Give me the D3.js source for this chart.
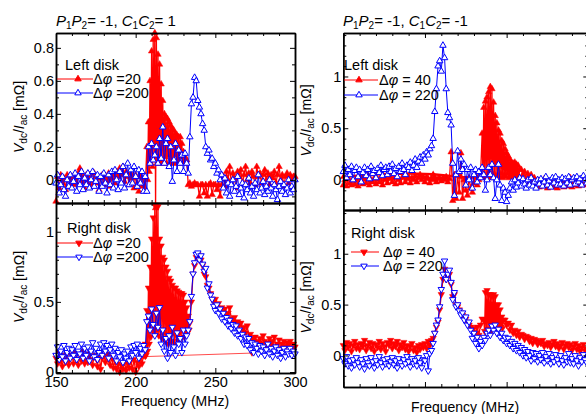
<!DOCTYPE html>
<html>
<head>
<meta charset="utf-8">
<script src="https://cdn.jsdelivr.net/npm/d3@7"></script>
<style>
  body { margin: 0; background: #fff; }
  svg { font-family: "Liberation Sans", Arial, sans-serif; }
  .axis path, .axis line { stroke: #000; }
  .axis path { stroke-width: 1.5; }
  .axis line { stroke-width: 1; }
  .axis text { font-size: 14.5px; fill: #000; font-family: "Liberation Sans", Arial, sans-serif; }
</style>
</head>
<body>
<div id="container"></div>
<script>
let w = 586;
let h = 414;

// frequency grid of the sweep (MHz)
const freqs = d3.range(150, 301);

// P1P2 = -1, C1C2 = 1, left disk
const aLeft20 = [
  -0.13, 0.02, -0.05, 0.03, -0.02, 0.01, -0.06, 0.03, 0.0, -0.04,
  0.02, -0.03, 0.03, -0.02, 0.04, 0.07, -0.01, 0.02, -0.05, 0.03,
  -0.02, 0.03, 0.0, -0.03, 0.04, -0.02, 0.02, -0.06, 0.01, 0.03,
  -0.03, 0.02, -0.01, 0.04, -0.04, 0.01, 0.03, -0.02, 0.05, 0.02,
  0.07, 0.03, 0.08, -0.01, 0.05, 0.02, -0.03, 0.04, 0.01, -0.05,
  0.03, -0.02, -0.07, 0.02, -0.04, 0.01, -0.06, 0.12, 0.0, 0.5,
  0.1, 0.82, 0.89, -0.17, 0.78, 0.1, 0.62, 0.12, 0.45, 0.1,
  0.38, 0.14, 0.36, 0.1, 0.31, 0.15, 0.28, 0.1, 0.26, 0.12,
  0.2, 0.1, 0.14, -0.03, -0.02, -0.04, -0.03, -0.02, -0.03, -0.03,
  -0.1, -0.03, -0.03, -0.08, -0.03, -0.1, -0.03, -0.02, -0.09, -0.03,
  -0.03, -0.06, -0.03, -0.1, -0.03, 0.02, -0.04, 0.05, 0.0, 0.08,
  -0.02, 0.04, 0.01, -0.05, 0.05, 0.02, 0.06, -0.03, 0.03, 0.08,
  0.0, 0.04, -0.02, 0.05, 0.02, -0.03, 0.08, 0.02, 0.04, -0.02,
  0.03, 0.06, 0.0, 0.04, -0.03, 0.03, 0.01, 0.05, -0.02, 0.03,
  0.08, 0.0, 0.03, -0.04, 0.02, 0.04, -0.02, 0.03, 0.0, 0.02,
  0.02
];
// fine 0.5 MHz sweep through the resonance, from 207 MHz
const aLeft20Burst = [
  0.2, 0.0, 0.35, 0.05, 0.6, 0.1, 0.78, 0.08, 0.85, 0.12,
  0.89, -0.17, 0.86, 0.1, 0.76, 0.14, 0.7, 0.1, 0.58, 0.12,
  0.48, 0.1, 0.4, 0.14, 0.38, 0.1, 0.37, 0.15, 0.35, 0.1,
  0.33, 0.13, 0.31, 0.1, 0.3, 0.15, 0.28, 0.1, 0.27, 0.12,
  0.26, 0.1, 0.26, 0.14, 0.22, 0.1, 0.17, 0.12, 0.14, 0.1,
  0.12
];
const aLeft200 = [
  -0.02, 0.03, -0.08, -0.03, 0.02, -0.06, -0.1, 0.0, -0.04, 0.03,
  -0.05, -0.01, 0.04, -0.07, 0.02, -0.03, 0.05, -0.06, 0.01, -0.03,
  0.04, -0.05, 0.0, 0.05, -0.04, -0.01, 0.03, -0.07, 0.02, -0.04,
  0.04, -0.02, -0.08, 0.03, -0.03, 0.05, -0.05, 0.06, 0.0, -0.06,
  0.05, -0.02, 0.08, -0.05, 0.03, 0.1, -0.03, 0.06, -0.02, 0.08,
  0.02, -0.04, 0.06, -0.02, 0.05, -0.07, 0.02, -0.07, 0.2, 0.1,
  0.22, 0.12, 0.15, 0.2, 0.1, 0.25, 0.13, 0.32, 0.1, 0.22,
  0.25, 0.08, 0.2, -0.01, 0.12, 0.22, 0.05, 0.18, 0.1, 0.15,
  0.05, 0.16, 0.1, 0.04, 0.26, 0.46, 0.5, 0.62, 0.6, 0.48,
  0.44, 0.4, 0.34, 0.3, 0.2, 0.16, 0.18, 0.12, 0.13, 0.08,
  0.1, 0.04, 0.06, 0.0, 0.03, -0.05, 0.01, -0.08, -0.02, -0.1,
  -0.03, 0.0, -0.07, -0.04, 0.02, -0.09, -0.05, -0.02, -0.11, -0.03,
  -0.06, 0.01, -0.08, -0.04, -0.1, -0.02, -0.06, 0.03, -0.08, -0.05,
  -0.01, -0.09, -0.04, -0.07, 0.0, -0.05, -0.1, -0.03, -0.06, -0.12,
  -0.04, -0.01, -0.07, -0.03, -0.09, -0.05, 0.0, -0.08, -0.04, -0.06,
  0.0
];

// P1P2 = -1, C1C2 = 1, right disk
const aRight20 = [
  0.1, 0.06, 0.14, 0.08, 0.04, 0.12, 0.07, 0.13, 0.05, 0.1,
  0.12, 0.06, 0.14, 0.09, 0.05, 0.12, 0.08, 0.15, 0.06, 0.11,
  0.07, 0.13, 0.09, 0.05, 0.12, 0.1, 0.04, 0.14, 0.02, 0.1,
  0.12, 0.07, 0.13, 0.09, 0.05, 0.11, 0.03, 0.08, 0.02, 0.06,
  0.0, 0.05, 0.02, 0.07, 0.01, 0.06, 0.03, 0.08, 0.02, 0.09,
  0.0, 0.07, 0.04, 0.1, 0.06, 0.12, 0.2, 0.44, 0.25, 0.75,
  0.3, 1.0, 1.19, 0.35, 1.18, 0.3, 0.92, 0.25, 0.82, 0.3,
  0.75, 0.22, 0.67, 0.28, 0.62, 0.2, 0.6, 0.3, 0.58, 0.25,
  0.56, 0.3, 0.46, 0.25, 0.35, 0.5, 0.7, 0.76, 0.82, 0.84,
  0.8, 0.8, 0.76, 0.7, 0.68, 0.62, 0.6, 0.56, 0.52, 0.5,
  0.52, 0.46, 0.49, 0.44, 0.46, 0.43, 0.45, 0.4, 0.42, 0.46,
  0.38, 0.36, 0.39, 0.34, 0.36, 0.33, 0.35, 0.3, 0.32, 0.28,
  0.33, 0.25, 0.27, 0.24, 0.22, 0.25, 0.2, 0.22, 0.24, 0.2,
  0.26, 0.22, 0.18, 0.21, 0.24, 0.19, 0.22, 0.25, 0.18, 0.2,
  0.23, 0.17, 0.2, 0.22, 0.18, 0.21, 0.19, 0.22, 0.17, 0.2,
  0.18
];
// fine 0.5 MHz sweep through the resonance, from 206 MHz
const aRight20Burst = [
  0.2, 0.12, 0.44, 0.15, 0.6, 0.2, 0.75, 0.25, 0.95, 0.3,
  1.1, 0.28, 1.19, 0.32, 1.19, 0.3, 1.18, 0.26, 0.95, 0.3,
  0.9, 0.24, 0.82, 0.28, 0.8, 0.22, 0.75, 0.27, 0.72, 0.2,
  0.67, 0.25, 0.65, 0.22, 0.62, 0.28, 0.6, 0.2, 0.6, 0.26,
  0.58, 0.22, 0.57, 0.28, 0.56, 0.24, 0.56, 0.3, 0.55, 0.25,
  0.5, 0.3, 0.46, 0.28, 0.4, 0.3, 0.35
];
const aRight20Tail = [[206, 0.11], [273, 0.135]];
const aRight200 = [
  0.12, 0.18, 0.09, 0.15, 0.11, 0.19, 0.08, 0.14, 0.17, 0.1,
  0.16, 0.12, 0.19, 0.09, 0.15, 0.13, 0.2, 0.1, 0.17, 0.12,
  0.18, 0.08, 0.15, 0.21, 0.11, 0.17, 0.09, 0.14, 0.2, 0.12,
  0.21, 0.15, 0.19, 0.1, 0.16, 0.2, 0.12, 0.17, 0.08, 0.14,
  0.11, 0.16, 0.07, 0.13, 0.1, 0.15, 0.08, 0.18, 0.12, 0.19,
  0.14, 0.2, 0.1, 0.17, 0.13, 0.19, 0.16, 0.36, 0.4, 0.3,
  0.45, 0.34, 0.26, 0.42, 0.32, 0.46, 0.2, 0.3, 0.15, 0.24,
  0.1, 0.26, 0.14, 0.32, 0.18, 0.12, 0.28, 0.2, 0.24, 0.14,
  0.3, 0.2, 0.26, 0.3, 0.36, 0.54, 0.7, 0.78, 0.84, 0.85,
  0.8, 0.83, 0.77, 0.72, 0.74, 0.6, 0.63, 0.55, 0.52, 0.47,
  0.44, 0.48, 0.42, 0.45, 0.38, 0.42, 0.36, 0.39, 0.33, 0.37,
  0.31, 0.34, 0.28, 0.33, 0.26, 0.3, 0.24, 0.27, 0.2, 0.25,
  0.19, 0.24, 0.16, 0.21, 0.14, 0.2, 0.17, 0.13, 0.19, 0.15,
  0.18, 0.12, 0.16, 0.2, 0.13, 0.17, 0.11, 0.15, 0.18, 0.12,
  0.16, 0.1, 0.14, 0.17, 0.11, 0.15, 0.13, 0.17, 0.12, 0.15,
  0.13
];

// P1P2 = -1, C1C2 = -1, left disk
const bLeft40 = [
  -0.05, 0.0, -0.06, 0.02, -0.03, -0.05, 0.01, -0.04, 0.0, -0.06,
  -0.02, 0.02, -0.04, 0.01, -0.03, 0.03, -0.05, 0.0, -0.02, 0.02,
  -0.04, 0.01, -0.02, 0.03, -0.05, 0.0, 0.02, -0.03, 0.01, 0.03,
  -0.02, 0.02, -0.04, 0.03, 0.0, -0.03, 0.02, 0.04, -0.02, 0.01,
  0.03, -0.03, 0.02, 0.0, 0.04, -0.02, 0.02, 0.05, 0.0, 0.03,
  -0.02, 0.03, 0.01, -0.03, 0.02, 0.0, 0.03, -0.02, 0.01, 0.02,
  -0.01, 0.02, 0.0, 0.03, -0.02, 0.01, 0.27, -0.2, 0.05, -0.18,
  0.05, -0.12, 0.26, -0.18, 0.0, -0.1, -0.15, 0.02, -0.08, -0.12,
  -0.03, 0.05, -0.05, 0.0, 0.03, 0.45, 0.05, 0.76, 0.1, 0.81,
  0.9, 0.2, 0.88, 0.05, 0.62, 0.1, 0.48, 0.05, 0.38, 0.08,
  0.27, 0.03, 0.23, 0.05, 0.16, 0.02, 0.14, 0.18, 0.03, 0.1,
  0.05, 0.08, 0.0, 0.06, -0.02, 0.05, -0.04, 0.02, -0.05, 0.0,
  -0.07, -0.03, -0.06, 0.01, -0.05, -0.08, -0.02, -0.06, 0.0, -0.07,
  -0.04, -0.08, -0.02, -0.05, 0.0, -0.07, -0.03, -0.06, -0.04, 0.02,
  -0.07, -0.03, -0.05, 0.0, -0.06, -0.02, -0.05, 0.01, -0.03, -0.05,
  0.0
];
// fine 0.5 MHz sweep through the resonance, from 235 MHz
const bLeft40Burst = [
  0.45, 0.02, 0.7, 0.05, 0.76, 0.03, 0.8, 0.06, 0.85, 0.02,
  0.9, 0.05, 0.88, 0.03, 0.75, 0.06, 0.62, 0.02, 0.55, 0.05,
  0.48, 0.03, 0.45, 0.06, 0.38, 0.02, 0.35, 0.05, 0.3, 0.03,
  0.26, 0.06, 0.23, 0.02, 0.2, 0.05, 0.17, 0.03, 0.16, 0.04,
  0.17, 0.02, 0.15, 0.05, 0.14, 0.03, 0.1
];
const bLeft40Tail = [[150, 0.03], [165, 0.05], [185, 0.065], [205, 0.055], [222, 0.03], [232, 0.02]];
const bLeft220 = [
  0.08, 0.14, 0.02, 0.1, 0.05, 0.13, 0.0, 0.09, 0.12, 0.03,
  0.1, -0.02, 0.07, 0.12, 0.04, 0.1, 0.01, 0.13, 0.06, 0.09,
  0.02, 0.11, 0.07, 0.14, 0.04, 0.1, 0.12, 0.05, 0.13, 0.08,
  0.15, 0.06, 0.11, 0.03, 0.13, 0.08, 0.16, 0.1, 0.05, 0.14,
  0.12, 0.17, 0.09, 0.14, 0.2, 0.12, 0.18, 0.22, 0.16, 0.24,
  0.2, 0.27, 0.24, 0.3, 0.33, 0.4, 0.66, 0.88, 1.1, 1.15,
  1.05, 1.3, 1.18, 0.88, 0.65, 0.6, 0.53, 0.16, -0.15, 0.05,
  0.28, 0.08, 0.2, 0.1, 0.15, -0.05, 0.1, 0.0, 0.12, -0.08,
  0.05, 0.1, -0.02, 0.08, 0.02, 0.12, 0.05, -0.1, 0.0, 0.12,
  0.05, 0.15, 0.02, -0.18, 0.0, 0.15, -0.05, -0.2, -0.08, -0.12,
  -0.21, -0.15, -0.08, -0.02, -0.1, 0.0, -0.07, -0.03, 0.02, -0.06,
  0.01, -0.04, -0.08, 0.0, -0.05, 0.02, -0.06, -0.02, -0.08, 0.0,
  -0.04, 0.01, -0.06, -0.02, 0.03, -0.05, -0.01, -0.07, 0.02, -0.03,
  0.03, -0.05, 0.0, -0.04, 0.02, -0.06, 0.01, -0.03, 0.03, -0.05,
  0.0, 0.02, -0.04, 0.03, -0.02, 0.01, -0.05, 0.04, 0.0, -0.03,
  0.02
];

// P1P2 = -1, C1C2 = -1, right disk
const bRight40 = [
  0.1, 0.05, 0.13, 0.08, 0.12, 0.04, 0.1, 0.14, 0.07, 0.11,
  0.06, 0.12, 0.09, 0.15, 0.05, 0.1, 0.13, 0.07, 0.12, 0.04,
  0.11, 0.08, 0.14, 0.06, 0.12, 0.09, 0.04, 0.13, 0.1, 0.15,
  0.07, 0.12, 0.09, 0.14, 0.05, 0.11, 0.08, 0.13, 0.06, 0.1,
  0.04, 0.09, 0.12, 0.05, 0.08, 0.03, 0.1, 0.06, 0.11, 0.08,
  0.12, 0.07, 0.14, 0.1, 0.15, 0.17, 0.22, 0.28, 0.33, 0.45,
  0.6, 0.75, 0.85, 0.75, 0.78, 0.8, 0.7, 0.58, 0.6, 0.5,
  0.48, 0.45, 0.42, 0.4, 0.38, 0.36, 0.33, 0.3, 0.28, 0.25,
  0.27, 0.22, 0.28, 0.2, 0.3, 0.36, 0.25, 0.62, 0.2, 0.6,
  0.25, 0.55, 0.22, 0.58, 0.28, 0.5, 0.3, 0.38, 0.28, 0.35,
  0.3, 0.32, 0.25, 0.3, 0.22, 0.25, 0.2, 0.24, 0.18, 0.21,
  0.2, 0.16, 0.19, 0.18, 0.14, 0.17, 0.12, 0.16, 0.15, 0.11,
  0.14, 0.12, 0.15, 0.09, 0.12, 0.1, 0.13, 0.08, 0.11, 0.14,
  0.09, 0.12, 0.07, 0.1, 0.13, 0.06, 0.1, 0.12, 0.08, 0.11,
  0.05, 0.09, 0.12, 0.06, 0.1, 0.04, 0.08, 0.11, 0.05, 0.07,
  0.06
];
// fine 0.5 MHz sweep through the resonance, from 236 MHz
const bRight40Burst = [
  0.35, 0.24, 0.62, 0.22, 0.64, 0.26, 0.6, 0.22, 0.6, 0.25,
  0.58, 0.24, 0.6, 0.27, 0.58, 0.25, 0.5, 0.28, 0.5, 0.26,
  0.45, 0.28, 0.38, 0.27, 0.35
];
const bRight220 = [
  -0.03, -0.08, -0.01, -0.1, -0.05, -0.12, -0.04, -0.09, -0.02, -0.07,
  -0.11, -0.04, -0.08, -0.13, -0.03, -0.07, -0.1, -0.02, -0.06, -0.12,
  -0.05, -0.09, -0.01, -0.07, -0.11, -0.04, -0.08, -0.03, -0.1, -0.06,
  -0.02, -0.09, -0.05, -0.12, -0.03, -0.07, -0.1, -0.04, -0.08, -0.01,
  -0.06, -0.11, -0.03, -0.08, -0.05, -0.1, -0.02, -0.07, -0.12, -0.04,
  -0.05, 0.0, -0.15, 0.02, 0.05, 0.12, 0.22, 0.3, 0.35, 0.48,
  0.65, 0.8, 0.93, 0.75, 0.8, 0.84, 0.72, 0.55, 0.62, 0.48,
  0.5, 0.44, 0.4, 0.42, 0.35, 0.38, 0.3, 0.33, 0.25, 0.17,
  0.22, 0.12, 0.18, 0.07, 0.14, 0.1, 0.18, 0.15, 0.22, 0.25,
  0.2, 0.29, 0.25, 0.3, 0.22, 0.26, 0.18, 0.22, 0.15, 0.18,
  0.12, 0.17, 0.1, 0.14, 0.07, 0.12, 0.05, 0.1, 0.03, 0.08,
  0.0, 0.06, -0.02, 0.04, 0.0, -0.05, 0.03, -0.03, 0.02, -0.06,
  0.0, -0.04, 0.03, -0.07, -0.01, -0.05, 0.02, -0.08, -0.02, -0.06,
  0.01, -0.04, -0.08, 0.0, -0.05, -0.09, -0.02, -0.06, 0.02, -0.07,
  -0.03, -0.08, 0.0, -0.05, -0.1, -0.02, -0.06, 0.01, -0.04, -0.07,
  -0.02
];

const xMajor = [150, 200, 250, 300];
const xMinor = [160, 170, 180, 190, 210, 220, 230, 240, 260, 270, 280, 290];

const RED = '#ff0000';
const BLUE = '#0000ff';

let viz = d3.select('#container')
  .append('svg')
  .attr('width', w)
  .attr('height', h);

const panels = [
  { left: 56, right: 295, top: 33, bottom: 203, yDomain: [-0.14, 0.89],
    yMajor: [0, 0.2, 0.4, 0.6, 0.8], yMinor: [-0.1, 0.1, 0.3, 0.5, 0.7],
    red: aLeft20, burst: aLeft20Burst, burstStart: 207, blue: aLeft200, tail: null, down: false,
    legend: { title: 'Left disk', tx: 65, ty: 70, y1: 79, y2: 93, lx0: 57, lx1: 93, mx: 78, textX: 93,
              labels: [' =20', ' =200'] } },
  { left: 56, right: 295, top: 203, bottom: 373, yDomain: [-0.007, 1.205],
    yMajor: [0, 0.5, 1], yMinor: [0.1, 0.2, 0.3, 0.4, 0.6, 0.7, 0.8, 0.9, 1.1],
    red: aRight20, burst: aRight20Burst, burstStart: 206, blue: aRight200,
    tail: aRight20Tail, tailWidth: 1, down: true, xLabels: true,
    legend: { title: 'Right disk', tx: 67, ty: 233, y1: 243, y2: 257, lx0: 57, lx1: 93, mx: 79, textX: 93,
              labels: [' =20', ' =200'] } },
  { left: 343.3, right: 588.3, top: 33, bottom: 210, yDomain: [-0.29, 1.42],
    yMajor: [0, 0.5, 1], yMinor: [-0.2, -0.1, 0.1, 0.2, 0.3, 0.4, 0.6, 0.7, 0.8, 0.9, 1.1, 1.2, 1.3, 1.4],
    red: bLeft40, burst: bLeft40Burst, burstStart: 235, blue: bLeft220,
    tail: bLeft40Tail, tailWidth: 2.5, down: false,
    legend: { title: 'Left disk', tx: 344, ty: 70, y1: 80, y2: 95, lx0: 344, lx1: 378, mx: 359, textX: 379,
              labels: [' = 40', ' = 220'] } },
  { left: 343.3, right: 588.3, top: 210, bottom: 387, yDomain: [-0.31, 1.43],
    yMajor: [0, 0.5, 1], yMinor: [-0.2, -0.1, 0.1, 0.2, 0.3, 0.4, 0.6, 0.7, 0.8, 0.9, 1.1, 1.2, 1.3, 1.4],
    red: bRight40, burst: bRight40Burst, burstStart: 236, blue: bRight220, tail: null, down: true,
    legend: { title: 'Right disk', tx: 351, ty: 238, y1: 252, y2: 266, lx0: 351, lx1: 379, mx: 364, textX: 383,
              labels: [' = 40', ' = 220'] } }
];

function tickLabel(d) {
  if (d === 0) return '0';
  return Number.isInteger(d * 2) ? String(d) : d.toFixed(1);
}

// coarse sweep with the fine sweep spliced in over the resonance
function redPoints(base, burst, start) {
  let end = start + (burst.length - 1) * 0.5;
  let pts = [];
  base.forEach((v, i) => { if (freqs[i] < start) pts.push([freqs[i], v]); });
  burst.forEach((v, i) => pts.push([start + i * 0.5, v]));
  base.forEach((v, i) => { if (freqs[i] > end) pts.push([freqs[i], v]); });
  return pts;
}

function addAxis(axis, transform) {
  let g = viz.append('g').attr('class', 'axis').attr('transform', transform);
  g.call(axis);
  return g;
}

panels.forEach(p => {
  let xScale = d3.scaleLinear().domain([150, 300]).range([p.left, p.right]);
  let yScale = d3.scaleLinear().domain(p.yDomain).range([p.bottom, p.top]);
  let symbol = d3.symbol().type(d3.symbolTriangle).size(18);
  let rot = p.down ? ' rotate(180)' : '';

  let vizGroup = viz.append('g').attr('class', 'vizGroup');
  let pairLine = d3.line().x(d => xScale(d[0])).y(d => yScale(d[1]));
  let line = d3.line().x((d, i) => xScale(freqs[i])).y(d => yScale(d));

  // red series
  if (p.tail) {
    vizGroup.append('path').datum(p.tail)
      .attr('d', pairLine)
      .attr('fill', 'none')
      .attr('stroke', RED)
      .attr('stroke-opacity', p.tailWidth > 1 ? 1 : 0.7)
      .attr('stroke-width', p.tailWidth);
    vizGroup.selectAll('.tailpt').data(p.tail).enter().append('path')
      .attr('class', 'tailpt')
      .attr('d', symbol)
      .attr('transform', d => 'translate(' + xScale(d[0]) + ',' + yScale(d[1]) + ')' + rot)
      .attr('fill', RED);
  }
  let redData = redPoints(p.red, p.burst, p.burstStart);
  vizGroup.append('path').datum(redData)
    .attr('d', pairLine)
    .attr('fill', 'none')
    .attr('stroke', RED)
    .attr('stroke-width', 1.3)
    .attr('stroke-linejoin', 'round');
  vizGroup.selectAll('.redpt').data(redData).enter().append('path')
    .attr('class', 'redpt')
    .attr('d', symbol)
    .attr('transform', d => 'translate(' + xScale(d[0]) + ',' + yScale(d[1]) + ')' + rot)
    .attr('fill', RED)
    .attr('stroke', RED)
    .attr('stroke-width', 0.5);

  // blue series
  vizGroup.append('path').datum(p.blue)
    .attr('d', line)
    .attr('fill', 'none')
    .attr('stroke', BLUE)
    .attr('stroke-width', 1);
  vizGroup.selectAll('.bluept').data(p.blue).enter().append('path')
    .attr('class', 'bluept')
    .attr('d', symbol)
    .attr('transform', (d, i) => 'translate(' + xScale(freqs[i]) + ',' + yScale(d) + ')' + rot)
    .attr('fill', '#fff')
    .attr('stroke', BLUE)
    .attr('stroke-width', 1);

  // frame with inward ticks
  let noLabel = () => '';
  addAxis(d3.axisBottom(xScale).tickValues(xMinor).tickSize(-3).tickSizeOuter(0).tickFormat(noLabel),
    'translate(0,' + p.bottom + ')');
  addAxis(d3.axisBottom(xScale).tickValues(xMajor).tickSize(-5).tickSizeOuter(0)
    .tickPadding(4).tickFormat(p.xLabels ? d3.format('d') : noLabel), 'translate(0,' + p.bottom + ')');
  addAxis(d3.axisTop(xScale).tickValues(xMinor).tickSize(-3).tickSizeOuter(0).tickFormat(noLabel),
    'translate(0,' + p.top + ')');
  addAxis(d3.axisTop(xScale).tickValues(xMajor).tickSize(-5).tickSizeOuter(0).tickFormat(noLabel),
    'translate(0,' + p.top + ')');
  addAxis(d3.axisLeft(yScale).tickValues(p.yMinor).tickSize(-3).tickSizeOuter(0).tickFormat(noLabel),
    'translate(' + p.left + ',0)');
  addAxis(d3.axisLeft(yScale).tickValues(p.yMajor).tickSize(-5).tickSizeOuter(0).tickPadding(2)
    .tickFormat(tickLabel), 'translate(' + p.left + ',0)');
  addAxis(d3.axisRight(yScale).tickValues(p.yMinor).tickSize(-3).tickSizeOuter(0).tickFormat(noLabel),
    'translate(' + p.right + ',0)');
  addAxis(d3.axisRight(yScale).tickValues(p.yMajor).tickSize(-5).tickSizeOuter(0).tickFormat(noLabel),
    'translate(' + p.right + ',0)');

  // legend
  let lg = viz.append('g').attr('class', 'legend');
  lg.append('text').attr('x', p.legend.tx).attr('y', p.legend.ty)
    .attr('font-size', 14.5).text(p.legend.title);
  [[p.legend.y1, RED, RED], [p.legend.y2, BLUE, '#fff']].forEach((row, k) => {
    lg.append('line')
      .attr('x1', p.legend.lx0).attr('x2', p.legend.lx1)
      .attr('y1', row[0]).attr('y2', row[0])
      .attr('stroke', row[1]).attr('stroke-width', 1);
    lg.append('path').attr('d', symbol)
      .attr('transform', 'translate(' + p.legend.mx + ',' + row[0] + ')' + rot)
      .attr('fill', row[2]).attr('stroke', row[1]).attr('stroke-width', 1);
    let t = lg.append('text').attr('x', p.legend.textX).attr('y', row[0] + 5).attr('font-size', 14.5);
    t.append('tspan').text('Δ');
    t.append('tspan').attr('font-style', 'italic').text('φ');
    t.append('tspan').text(p.legend.labels[k]);
  });

  // y label
  let yl = viz.append('text')
    .attr('transform', 'translate(' + (p.left - 32) + ',' + ((p.top + p.bottom) / 2 - 1) + ') rotate(-90)')
    .attr('text-anchor', 'middle')
    .attr('font-size', 14);
  yl.append('tspan').attr('font-style', 'italic').text('V');
  yl.append('tspan').attr('font-size', 10).attr('dy', 3).text('dc');
  yl.append('tspan').attr('dy', -3).text('/');
  yl.append('tspan').attr('font-style', 'italic').text('I');
  yl.append('tspan').attr('font-size', 10).attr('dy', 3).text('ac');
  yl.append('tspan').attr('dy', -3).text(' [mΩ]');
});

// x labels
viz.append('text').attr('x', 175).attr('y', 406).attr('text-anchor', 'middle')
  .attr('font-size', 14).text('Frequency (MHz)');
viz.append('text').attr('x', 465).attr('y', 412).attr('text-anchor', 'middle')
  .attr('font-size', 14).text('Frequency (MHz)');

// panel titles
function title(x, c) {
  let t = viz.append('text').attr('x', x).attr('y', 26).attr('font-size', 15);
  t.append('tspan').attr('font-style', 'italic').text('P');
  t.append('tspan').attr('font-size', 10).attr('dy', 3).text('1');
  t.append('tspan').attr('font-style', 'italic').attr('dy', -3).text('P');
  t.append('tspan').attr('font-size', 10).attr('dy', 3).text('2');
  t.append('tspan').attr('dy', -3).text('= -1, ');
  t.append('tspan').attr('font-style', 'italic').text('C');
  t.append('tspan').attr('font-size', 10).attr('dy', 3).text('1');
  t.append('tspan').attr('font-style', 'italic').attr('dy', -3).text('C');
  t.append('tspan').attr('font-size', 10).attr('dy', 3).text('2');
  t.append('tspan').attr('dy', -3).text(c);
}
title(56, '= 1');
title(343, '= -1');
</script>
</body>
</html>
